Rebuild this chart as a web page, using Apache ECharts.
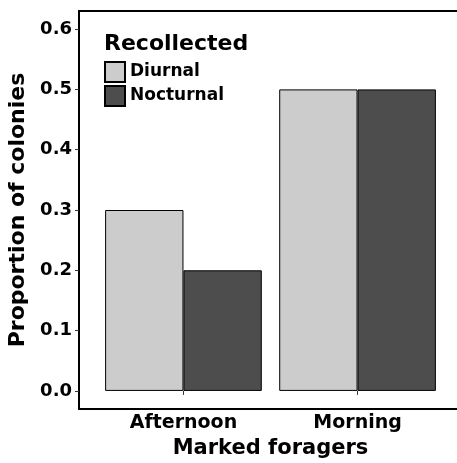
<!DOCTYPE html>
<html>
<head>
<meta charset="utf-8">
<script src="https://cdn.jsdelivr.net/npm/echarts@6/dist/echarts.min.js"></script>
<style>
  html, body { margin: 0; padding: 0; background: #fff; }
  #main { width: 457px; height: 463px; }
</style>
</head>
<body>
<div id="main"></div>
<script>
// data
var categories = ['Afternoon', 'Morning'];
var diurnal = [0.3, 0.5];
var nocturnal = [0.2, 0.5];
var yTicks = [0, 0.1, 0.2, 0.3, 0.4, 0.5, 0.6];
var seriesNames = ['Diurnal', 'Nocturnal'];

var font = 'DejaVu Sans';
var chart = echarts.init(document.getElementById('main'));

// categories sit at x = 1, 2 on a value axis so the ggplot-style padding works
function toPoints(vals) {
  return vals.map(function (v, i) { return [i + 1, v]; });
}
var catPos = categories.map(function (c, i) { return i + 1; });

var option = {
  animation: false,
  title: {
    text: 'Recollected',
    left: 104, top: 33, padding: 0,
    textStyle: { fontFamily: font, fontWeight: 'bold', fontSize: 22, color: '#000' }
  },
  legend: {
    orient: 'vertical',
    left: 104, top: 61, padding: 0,
    itemWidth: 20, itemHeight: 20, itemGap: 2,
    icon: 'rect',
    data: seriesNames,
    textStyle: { fontFamily: font, fontWeight: 'bold', fontSize: 17, color: '#000' }
  },
  grid: {
    left: 79, top: 11, width: 383, height: 398,
    outerBoundsMode: 'none',
    containLabel: false,
    show: true, borderColor: '#000', borderWidth: 2, backgroundColor: '#fff'
  },
  xAxis: {
    type: 'value',
    min: 0.4, max: 2.6,
    name: 'Marked foragers',
    nameLocation: 'middle',
    nameGap: 27,
    nameTextStyle: { fontFamily: font, fontWeight: 'bold', fontSize: 21, color: '#000', verticalAlign: 'top' },
    axisLine: { show: false },
    splitLine: { show: false },
    axisTick: { show: true, customValues: catPos, length: 4, lineStyle: { color: '#333', width: 1 } },
    axisLabel: {
      customValues: catPos,
      margin: 5,
      fontFamily: font, fontWeight: 'bold', fontSize: 19, color: '#000',
      formatter: function (v) { return categories[Math.round(v) - 1]; }
    }
  },
  yAxis: {
    type: 'value',
    min: -0.03, max: 0.63,
    name: 'Proportion of colonies',
    nameLocation: 'middle',
    nameGap: 45,
    nameTextStyle: { fontFamily: font, fontWeight: 'bold', fontSize: 22, color: '#000' },
    axisLine: { show: false },
    splitLine: { show: false },
    axisTick: { show: true, customValues: yTicks, length: 4, lineStyle: { color: '#333', width: 1 } },
    axisLabel: {
      customValues: yTicks,
      margin: 7,
      fontFamily: font, fontWeight: 'bold', fontSize: 18, color: '#000',
      formatter: function (v) { return v.toFixed(1); }
    }
  },
  series: [
    {
      name: seriesNames[0],
      type: 'bar',
      data: toPoints(diurnal),
      barWidth: '45%',
      barGap: '0%',
      itemStyle: { color: '#cccccc', borderColor: '#000', borderWidth: 1 }
    },
    {
      name: seriesNames[1],
      type: 'bar',
      data: toPoints(nocturnal),
      barWidth: '45%',
      barGap: '0%',
      itemStyle: { color: '#4d4d4d', borderColor: '#000', borderWidth: 1 }
    }
  ]
};

chart.setOption(option);
</script>
</body>
</html>
